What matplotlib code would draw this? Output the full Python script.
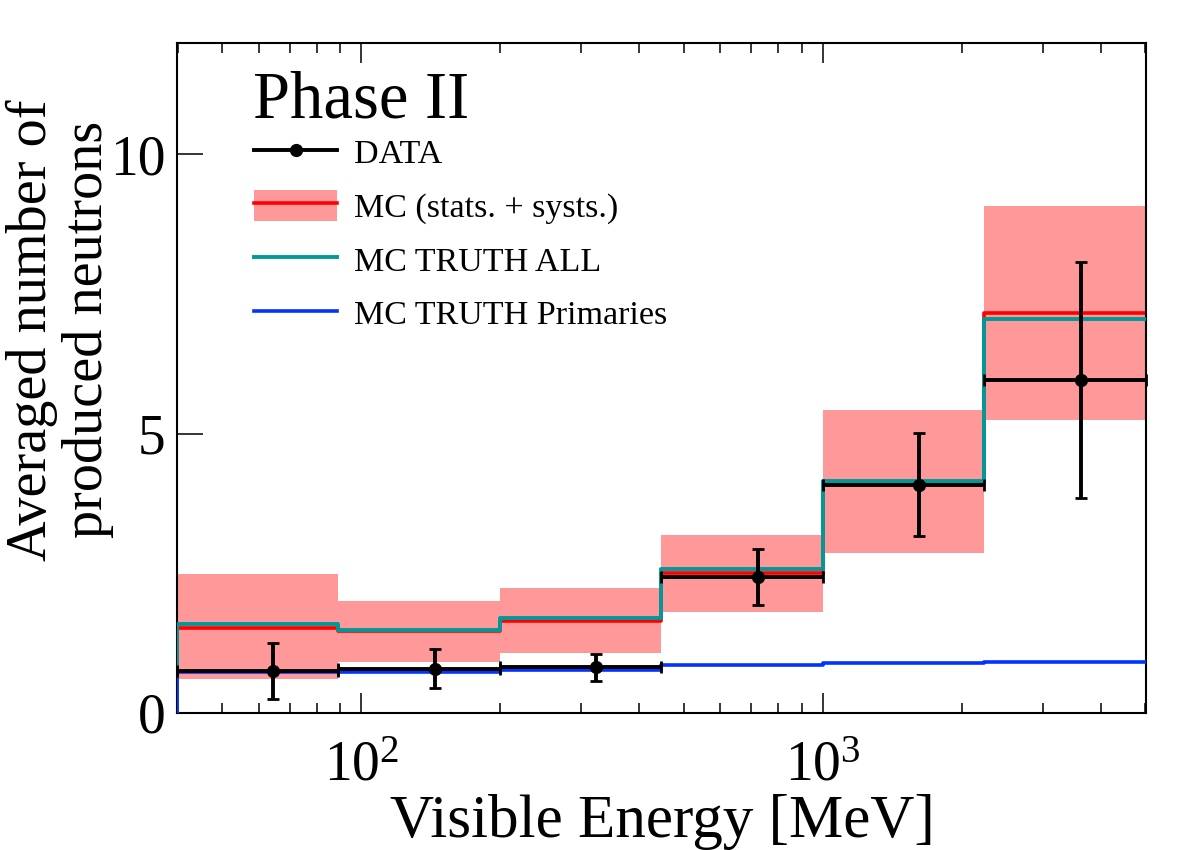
import numpy as np
import matplotlib
matplotlib.use("Agg")
import matplotlib.pyplot as plt
from matplotlib.lines import Line2D
from matplotlib.patches import Patch
from matplotlib.ticker import LogLocator, NullFormatter

# Bins de energía visible (MeV) y valores
bin_edges = [39.8, 89.1, 199.5, 446.7, 1000.0, 2238.7, 5011.9]
data_y = [0.75, 0.79, 0.82, 2.43, 4.09, 5.96]
data_err = [0.50, 0.35, 0.24, 0.50, 0.92, 2.11]
mc_y = [1.53, 1.46, 1.65, 2.50, 4.13, 7.16]
mc_low = [0.60, 0.92, 1.07, 1.81, 2.86, 5.24]
mc_high = [2.48, 2.01, 2.23, 3.18, 5.43, 9.07]
truth_all = [1.60, 1.48, 1.70, 2.57, 4.16, 7.05]
truth_prim = [0.73, 0.73, 0.77, 0.86, 0.90, 0.91]

plt.rcParams['font.family'] = ['Liberation Serif', 'DejaVu Serif']
plt.rcParams['mathtext.fontset'] = 'custom'
plt.rcParams['mathtext.rm'] = 'Liberation Serif'

edges = np.array(bin_edges)
centers = (edges[:-1] + edges[1:]) / 2


def step_xy(vals):
    """Histograma tipo ROOT: sube desde 0 en el borde izquierdo, sin bajar al final."""
    x = np.concatenate([[edges[0]], np.repeat(edges, 2)[1:-1]])
    y = np.concatenate([[0], np.repeat(vals, 2)])
    return x, y


fig = plt.figure(figsize=(11.82, 8.5), dpi=100)
ax = fig.add_axes([0.1495, 0.1612, 0.8198, 0.7886])

# Banda MC (stats + systs)
ax.stairs(mc_high, edges, baseline=mc_low, fill=True, color='#ff9999', lw=0, zorder=1)

ax.plot(*step_xy(mc_y), color='#ff0000', lw=2.6, zorder=2)
ax.plot(*step_xy(truth_all), color='#009999', lw=2.8, zorder=3)
ax.plot(*step_xy(truth_prim), color='#0033ff', lw=2.6, zorder=4)

ax.errorbar(centers, data_y, yerr=data_err,
            xerr=[centers - edges[:-1], edges[1:] - centers],
            fmt='o', color='black', ms=8.5, elinewidth=2.8,
            capsize=4, capthick=2.0, zorder=5, clip_on=False)

ax.set_xscale('log')
ax.set_xlim(edges[0], edges[-1])
ax.set_ylim(0, 12)
ax.set_yticks([0, 5, 10])
ax.xaxis.set_minor_locator(LogLocator(base=10, subs=np.arange(2, 10)))
ax.xaxis.set_minor_formatter(NullFormatter())

for s in ax.spines.values():
    s.set_linewidth(1.5)

ax.tick_params(axis='x', which='major', direction='in', top=True, length=14.4,
               width=1.1, labelsize=40, pad=20)
ax.tick_params(axis='x', which='minor', direction='in', top=True, length=7.2, width=1.1)
ax.tick_params(axis='y', which='major', direction='in', right=False, length=19,
               width=1.1, labelsize=40, pad=8)

fig.text(0.5602, 0.0, 'Visible Energy [MeV]', fontsize=44, ha='center', va='bottom')
fig.text(0.051, 0.612, 'Averaged number of\nproduced neutrons', fontsize=40.5,
         rotation=90, ha='center', va='center', multialignment='center', linespacing=1.1)

fig.text(0.214, 1 - 118 / 850, 'Phase II', fontsize=48, ha='left', va='baseline')

handles = [
    Line2D([], [], color='black', lw=2.8, marker='o', ms=8.5),
    (Patch(color='#ff9999', lw=0), Line2D([], [], color='#ff0000', lw=2.6)),
    Line2D([], [], color='#009999', lw=2.8),
    Line2D([], [], color='#0033ff', lw=2.6),
]
labels = ['DATA', 'MC (stats. + systs.)', 'MC TRUTH ALL', 'MC TRUTH Primaries']
ax.legend(handles, labels, loc='upper left', bbox_to_anchor=(254 / 1182, 1 - 136 / 850),
          bbox_transform=fig.transFigure, frameon=False, fontsize=24.5, numpoints=1,
          handlelength=2.44, handleheight=1.06, handletextpad=0.5, labelspacing=0.56,
          borderpad=0, borderaxespad=0)

fig.savefig('out.png', dpi=100)
